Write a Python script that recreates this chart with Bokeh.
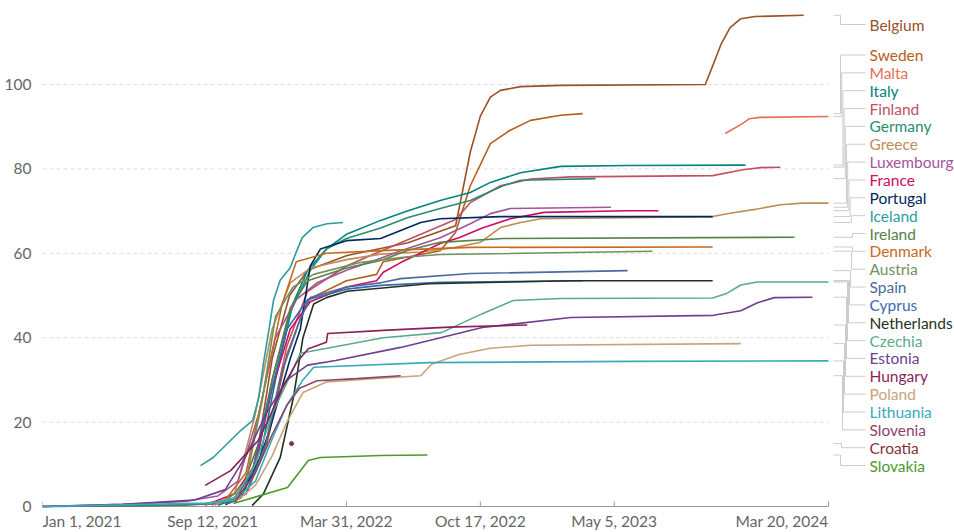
import pandas as pd
from bokeh.plotting import figure
from bokeh.models import Range1d, FixedTicker, ColumnDataSource
from bokeh.core.properties import value
from bokeh.embed import file_html
from bokeh.resources import INLINE

# ---------------- data ----------------
TICK_DATES = ["2021-01-01", "2021-09-12", "2022-03-31", "2022-10-17", "2023-05-05", "2024-03-20"]
TICK_LABELS = ["Jan 1, 2021", "Sep 12, 2021", "Mar 31, 2022", "Oct 17, 2022", "May 5, 2023", "Mar 20, 2024"]
Y_TICKS = [0, 20, 40, 60, 80, 100]

COUNTRIES = ["Belgium", "Sweden", "Malta", "Italy", "Finland", "Germany", "Greece", "Luxembourg",
             "France", "Portugal", "Iceland", "Ireland", "Denmark", "Austria", "Spain", "Cyprus",
             "Netherlands", "Czechia", "Estonia", "Hungary", "Poland", "Lithuania", "Slovenia",
             "Croatia", "Slovakia"]

BELGIUM_DATES = ["2021-01-01", "2021-06-01", "2021-09-15", "2021-10-20", "2021-11-20", "2021-12-10",
                 "2022-01-05", "2022-02-01", "2022-04-01", "2022-07-01", "2022-09-10", "2022-09-22",
                 "2022-10-02", "2022-10-17", "2022-11-01", "2022-11-16", "2022-12-16", "2023-02-14",
                 "2023-09-18", "2023-09-28", "2023-10-12", "2023-10-25", "2023-11-10", "2023-12-01",
                 "2024-02-12"]
BELGIUM_VALUES = [0, 0.2, 0.6, 2, 15, 35, 50, 56, 59.5, 62.5, 66.5, 76, 84, 92.5, 97, 98.6, 99.5,
                  99.8, 100, 104, 109.7, 113.5, 115.6, 116.1, 116.4]

SWEDEN_DATES = ["2021-10-01", "2021-11-01", "2021-12-01", "2022-01-01", "2022-02-01", "2022-03-31",
                "2022-05-15", "2022-05-25", "2022-08-18", "2022-09-10", "2022-10-02", "2022-11-01",
                "2022-11-30", "2022-12-31", "2023-02-14", "2023-03-19"]
SWEDEN_VALUES = [0.5, 3, 14, 36, 49, 53.5, 55, 58, 60.6, 65, 76, 86, 89.1, 91.5, 92.7, 93.1]

MALTA_DATES = ["2023-10-18", "2023-11-13", "2023-11-23", "2023-12-08", "2024-03-20"]
MALTA_VALUES = [88.4, 90.8, 91.9, 92.2, 92.4]

ITALY_DATES = ["2021-09-20", "2021-10-20", "2021-11-20", "2021-12-15", "2022-01-10", "2022-02-01",
               "2022-03-01", "2022-03-31", "2022-05-21", "2022-07-01", "2022-08-18", "2022-10-02",
               "2022-11-01", "2022-12-16", "2023-02-14", "2023-05-25", "2023-11-17"]
ITALY_VALUES = [0.3, 2, 10, 30, 48, 56, 61, 64.5, 67.8, 70.1, 72.5, 74.4, 76.8, 79.1, 80.6, 80.8, 80.9]

FINLAND_DATES = ["2021-10-01", "2021-11-01", "2021-12-01", "2022-01-01", "2022-02-01", "2022-03-31",
                 "2022-05-21", "2022-07-20", "2022-09-10", "2022-10-02", "2022-11-16", "2022-12-31",
                 "2023-03-01", "2023-09-29", "2023-11-13", "2023-12-10", "2024-01-08"]
FINLAND_VALUES = [0.4, 3, 15, 38, 51, 57, 60.5, 64.5, 68, 72, 76, 77.6, 78.1, 78.4, 79.8, 80.3, 80.4]

GERMANY_DATES = ["2021-01-01", "2021-08-01", "2021-09-15", "2021-10-15", "2021-11-15", "2021-12-10",
                 "2022-01-06", "2022-02-05", "2022-03-01", "2022-03-31", "2022-05-21", "2022-07-01",
                 "2022-08-18", "2022-10-02", "2022-11-20", "2022-12-16", "2023-04-07"]
GERMANY_VALUES = [0, 0.3, 0.8, 2, 9, 30, 46, 56, 61, 63.5, 66, 68.5, 70.6, 72.5, 76, 77.3, 77.7]

GREECE_DATES = ["2021-09-15", "2021-10-15", "2021-11-15", "2021-12-10", "2022-01-06", "2022-02-05",
                "2022-03-31", "2022-05-21", "2022-07-20", "2022-09-10", "2022-10-17", "2022-11-16",
                "2022-12-16", "2023-01-15", "2023-09-29", "2023-10-25", "2023-12-01", "2024-01-08",
                "2024-02-10", "2024-03-20"]
GREECE_VALUES = [0.3, 3, 22, 42, 53, 56.5, 58.5, 59.8, 60.3, 61.4, 62.6, 66.1, 67.3, 68.2, 68.7,
                 69.5, 70.4, 71.5, 71.9, 71.9]

LUXEMBOURG_DATES = ["2021-01-01", "2021-05-01", "2021-08-01", "2021-09-20", "2021-10-20", "2021-11-20",
                    "2021-12-15", "2022-01-15", "2022-02-15", "2022-03-31", "2022-05-21", "2022-06-20",
                    "2022-08-18", "2022-10-02", "2022-11-01", "2022-12-01", "2023-04-30"]
LUXEMBOURG_VALUES = [0, 0.5, 1.2, 2.5, 6, 22, 40, 49, 53, 56, 58.8, 60.6, 63.7, 67, 69.4, 70.6, 70.9]

FRANCE_DATES = ["2021-09-01", "2021-10-15", "2021-11-15", "2021-12-10", "2022-01-06", "2022-02-05",
                "2022-03-31", "2022-05-15", "2022-05-25", "2022-06-20", "2022-08-18", "2022-09-15",
                "2022-10-20", "2022-12-01", "2023-01-20", "2023-05-25", "2023-07-10"]
FRANCE_VALUES = [0.3, 3, 10, 28, 42, 48.5, 52, 53.5, 55.5, 57.8, 62.3, 63.7, 66, 68.2, 69.7, 70.1, 70.1]

PORTUGAL_DATES = ["2021-10-01", "2021-10-24", "2021-11-23", "2021-12-06", "2022-01-06", "2022-01-21",
                  "2022-02-05", "2022-02-20", "2022-03-31", "2022-05-21", "2022-07-20", "2022-08-18",
                  "2022-11-16", "2023-09-29"]
PORTUGAL_VALUES = [0.5, 2, 12, 18, 35, 42, 57, 61, 63, 63.5, 67.3, 68.2, 68.7, 68.7]

ICELAND_DATES = ["2021-08-25", "2021-09-13", "2021-10-24", "2021-11-11", "2021-11-20", "2021-11-27",
                 "2021-12-05", "2021-12-12", "2021-12-22", "2022-01-06", "2022-01-16", "2022-01-24",
                 "2022-02-09", "2022-03-02", "2022-03-26"]
ICELAND_VALUES = [9.7, 11.6, 18, 20.4, 25.8, 33.9, 41.7, 48.8, 53.6, 56.6, 60.7, 63.7, 66.1, 67, 67.3]

IRELAND_DATES = ["2021-10-10", "2021-11-10", "2021-12-10", "2022-01-06", "2022-02-01", "2022-03-31",
                 "2022-05-21", "2022-07-01", "2022-08-18", "2022-11-20", "2024-01-29"]
IRELAND_VALUES = [0.8, 8, 30, 47, 53.5, 56.5, 58.3, 60.7, 62.6, 63.5, 63.8]

DENMARK_DATES = ["2021-10-01", "2021-11-01", "2021-12-01", "2021-12-25", "2022-01-15", "2022-03-01",
                 "2022-06-01", "2022-10-01", "2023-09-29"]
DENMARK_VALUES = [1.5, 8, 30, 48, 58, 60, 60.7, 61.4, 61.5]

AUSTRIA_DATES = ["2021-10-01", "2021-11-01", "2021-11-25", "2021-12-15", "2022-01-10", "2022-02-10",
                 "2022-04-20", "2022-06-20", "2022-08-18", "2023-07-01"]
AUSTRIA_VALUES = [1, 6, 25, 45, 52, 55, 57.8, 59, 59.7, 60.5]

SPAIN_DATES = ["2021-10-01", "2021-11-01", "2021-12-01", "2021-12-25", "2022-01-20", "2022-02-05",
               "2022-03-31", "2022-05-21", "2022-06-20", "2022-10-02", "2023-05-25"]
SPAIN_VALUES = [0.5, 3, 15, 32, 44, 49.5, 52, 53, 54, 55.2, 55.9]

CYPRUS_DATES = ["2021-10-10", "2021-11-10", "2021-12-05", "2022-01-01", "2022-02-01", "2022-03-31",
                "2022-05-21", "2022-08-18", "2023-03-19"]
CYPRUS_VALUES = [1, 8, 25, 42, 49, 51.5, 52.4, 53.1, 53.5]

NETHERLANDS_DATES = ["2021-11-10", "2021-11-27", "2021-12-22", "2022-01-11", "2022-01-25", "2022-02-10",
                     "2022-03-01", "2022-04-01", "2022-08-01", "2023-03-01", "2023-09-29"]
NETHERLANDS_VALUES = [0.2, 3, 11.6, 26, 40, 48, 49.5, 51, 52.8, 53.5, 53.5]

CZECHIA_DATES = ["2021-09-01", "2021-10-15", "2021-11-15", "2021-12-10", "2022-01-06", "2022-01-21",
                 "2022-05-25", "2022-08-20", "2022-10-20", "2022-12-05", "2023-02-15", "2023-09-29",
                 "2023-10-20", "2023-11-10", "2023-12-05", "2024-03-20"]
CZECHIA_VALUES = [0.5, 2, 10, 22, 31, 36.3, 40, 41.2, 45.7, 48.8, 49.3, 49.4, 50.5, 52.5, 53.2, 53.2]

ESTONIA_DATES = ["2021-01-01", "2021-05-01", "2021-08-15", "2021-10-01", "2021-11-01", "2021-12-01",
                 "2022-01-01", "2022-02-01", "2022-03-15", "2022-06-20", "2022-10-20", "2023-03-01",
                 "2023-09-30", "2023-11-10", "2023-12-05", "2023-12-30", "2024-02-25"]
ESTONIA_VALUES = [0, 0.5, 1.5, 4, 12, 22, 30, 33.5, 34.6, 37.7, 42.4, 44.8, 45.3, 46.4, 48.3, 49.5, 49.6]

HUNGARY_DATES = ["2021-09-01", "2021-10-09", "2021-11-19", "2021-12-04", "2021-12-25", "2022-01-15",
                 "2022-02-02", "2022-03-01", "2022-03-03", "2022-06-01", "2022-09-01", "2022-12-26"]
HUNGARY_VALUES = [5, 8.5, 15.6, 20.4, 28, 34, 37.4, 38.9, 41, 41.8, 42.5, 43]

POLAND_DATES = ["2021-10-15", "2021-11-15", "2021-12-10", "2022-01-01", "2022-01-25", "2022-03-01",
                "2022-06-01", "2022-07-20", "2022-08-05", "2022-09-15", "2022-11-01", "2022-12-31",
                "2023-11-10"]
POLAND_VALUES = [1, 5, 12, 20, 27, 29.5, 30.5, 31, 33.7, 36, 37.5, 38.2, 38.6]

LITHUANIA_DATES = ["2021-01-01", "2021-09-01", "2021-10-15", "2021-11-15", "2021-12-10", "2022-01-01",
                   "2022-01-25", "2022-02-10", "2022-08-01", "2023-06-01", "2024-03-20"]
LITHUANIA_VALUES = [0, 0.8, 1.5, 6, 16, 24, 30, 33, 34.1, 34.4, 34.5]

SLOVENIA_DATES = ["2021-10-15", "2021-11-15", "2021-12-10", "2022-01-01", "2022-01-20", "2022-02-15",
                  "2022-04-15", "2022-06-20"]
SLOVENIA_VALUES = [1, 8, 17, 24, 28, 29.8, 30.3, 31]

CROATIA_DATES = ["2022-01-08"]
CROATIA_VALUES = [14.9]

SLOVAKIA_DATES = ["2021-10-13", "2022-01-02", "2022-02-02", "2022-02-20", "2022-05-21", "2022-07-30"]
SLOVAKIA_VALUES = [0.7, 4.5, 10.9, 11.6, 12.1, 12.2]

SERIES = {
    "Belgium": (BELGIUM_DATES, BELGIUM_VALUES), "Sweden": (SWEDEN_DATES, SWEDEN_VALUES),
    "Malta": (MALTA_DATES, MALTA_VALUES), "Italy": (ITALY_DATES, ITALY_VALUES),
    "Finland": (FINLAND_DATES, FINLAND_VALUES), "Germany": (GERMANY_DATES, GERMANY_VALUES),
    "Greece": (GREECE_DATES, GREECE_VALUES), "Luxembourg": (LUXEMBOURG_DATES, LUXEMBOURG_VALUES),
    "France": (FRANCE_DATES, FRANCE_VALUES), "Portugal": (PORTUGAL_DATES, PORTUGAL_VALUES),
    "Iceland": (ICELAND_DATES, ICELAND_VALUES), "Ireland": (IRELAND_DATES, IRELAND_VALUES),
    "Denmark": (DENMARK_DATES, DENMARK_VALUES), "Austria": (AUSTRIA_DATES, AUSTRIA_VALUES),
    "Spain": (SPAIN_DATES, SPAIN_VALUES), "Cyprus": (CYPRUS_DATES, CYPRUS_VALUES),
    "Netherlands": (NETHERLANDS_DATES, NETHERLANDS_VALUES), "Czechia": (CZECHIA_DATES, CZECHIA_VALUES),
    "Estonia": (ESTONIA_DATES, ESTONIA_VALUES), "Hungary": (HUNGARY_DATES, HUNGARY_VALUES),
    "Poland": (POLAND_DATES, POLAND_VALUES), "Lithuania": (LITHUANIA_DATES, LITHUANIA_VALUES),
    "Slovenia": (SLOVENIA_DATES, SLOVENIA_VALUES), "Croatia": (CROATIA_DATES, CROATIA_VALUES),
    "Slovakia": (SLOVAKIA_DATES, SLOVAKIA_VALUES),
}

# ---------------- styles ----------------
COLORS = {
    "Belgium": "#9A5129", "Sweden": "#B5601C", "Malta": "#E56E5A", "Italy": "#00847E",
    "Finland": "#C15065", "Germany": "#2A8C6E", "Greece": "#BC8E5A", "Luxembourg": "#A2559C",
    "France": "#CF0A66", "Portugal": "#00295B", "Iceland": "#2A9DA0", "Ireland": "#578145",
    "Denmark": "#C8691C", "Austria": "#6F9160", "Spain": "#4C6A9C", "Cyprus": "#3A6AB0",
    "Netherlands": "#1F3320", "Czechia": "#58AC8C", "Estonia": "#6D3E91", "Hungary": "#8A1F5A",
    "Poland": "#C9A37A", "Lithuania": "#38AABA", "Slovenia": "#8C4569", "Croatia": "#883039",
    "Slovakia": "#4C9A2A",
}
FONT = "Lato"
AXIS_TEXT = "#666666"
FS = "15.5px"

START = pd.Timestamp("2021-01-01")


def days(d):
    return (pd.Timestamp(d) - START).days


# ---------------- layout ----------------
W, H = 954, 532
LEFT = 42
PX_PER_DAY = 0.6695
PX_PER_UNIT = 4.22
FRAME_W = W - LEFT
FRAME_H = H
PAGE_LEFT = LEFT
PAGE_BOTTOM = FRAME_H          # bottom of frame on the page
ZERO_PAGE = 506                # page row of value 0
Y0 = -(PAGE_BOTTOM - ZERO_PAGE) / PX_PER_UNIT
X_END = FRAME_W / PX_PER_DAY
Y_END = Y0 + FRAME_H / PX_PER_UNIT


def px_x(px):
    return (px - PAGE_LEFT) / PX_PER_DAY


def px_y(py):
    return Y0 + (PAGE_BOTTOM - py) / PX_PER_UNIT


def val_py(v):
    return PAGE_BOTTOM - (v - Y0) * PX_PER_UNIT


p = figure(width=W, height=H, x_range=Range1d(0, X_END), y_range=Range1d(Y0, Y_END),
           output_backend="svg", toolbar_location=None, x_axis_location=None,
           min_border_left=LEFT, min_border_right=0, min_border_top=0, min_border_bottom=0)
p.outline_line_color = None
p.xgrid.visible = False
p.ygrid.visible = False
p.background_fill_color = "white"
p.border_fill_color = "white"

last_day = days(TICK_DATES[-1])

# grid lines (stop at last tick)
for yv in Y_TICKS[1:]:
    p.segment(x0=0, y0=yv, x1=last_day, y1=yv, line_color="#dddddd", line_width=1, line_dash="4 3")
p.segment(x0=0, y0=0, x1=last_day, y1=0, line_color="#9a9a9a", line_width=1)

# x ticks and labels (drawn inside the frame)
tick_days = [days(d) for d in TICK_DATES]
p.segment(x0=tick_days, y0=[0] * len(tick_days), x1=tick_days, y1=[5 / PX_PER_UNIT] * len(tick_days),
          line_color="#9a9a9a", line_width=1)
lab_y = px_y(520)
p.text(x=tick_days[:1], y=[lab_y], text=TICK_LABELS[:1], text_align="left", text_baseline="middle",
       text_font=value(FONT), text_font_size=FS, text_color=AXIS_TEXT)
p.text(x=tick_days[1:-1], y=[lab_y] * (len(tick_days) - 2), text=TICK_LABELS[1:-1], text_align="center",
       text_baseline="middle", text_font=value(FONT), text_font_size=FS, text_color=AXIS_TEXT)
p.text(x=tick_days[-1:], y=[lab_y], text=TICK_LABELS[-1:], text_align="right", text_baseline="middle",
       text_font=value(FONT), text_font_size=FS, text_color=AXIS_TEXT)

# y axis
p.yaxis.ticker = FixedTicker(ticks=Y_TICKS)
p.yaxis.axis_line_color = None
p.yaxis.major_tick_line_color = None
p.yaxis.minor_tick_line_color = None
p.yaxis.major_label_standoff = 5
p.yaxis.major_label_text_font = FONT
p.yaxis.major_label_text_font_size = FS
p.yaxis.major_label_text_color = AXIS_TEXT

# series
for name in COUNTRIES:
    ds, vs = SERIES[name]
    xs = [days(d) for d in ds]
    if len(xs) == 1:
        p.scatter(x=xs, y=vs, size=4, color=COLORS[name])
    else:
        p.line(x=xs, y=vs, line_color=COLORS[name], line_width=1.6)

# labels with connectors
label_py = [24] + [54.5 + 17.85 * i for i in range(len(COUNTRIES) - 1)]
end_py = [val_py(SERIES[n][1][-1]) for n in COUNTRIES]
signs = [1 if lp >= ep else -1 for lp, ep in zip(label_py, end_py)]
xv = [0.0] * len(COUNTRIES)
i = 0
while i < len(COUNTRIES):
    j = i
    while j + 1 < len(COUNTRIES) and signs[j + 1] == signs[i]:
        j += 1
    n = j - i + 1
    step = min(3.0, 12.0 / max(n - 1, 1))
    for k in range(n):
        idx = k if signs[i] < 0 else (n - 1 - k)
        xv[i + k] = 840 + idx * step
    i = j + 1

conn_xs, conn_ys = [], []
for k in range(len(COUNTRIES)):
    conn_xs.append([px_x(833), px_x(xv[k]), px_x(xv[k]), px_x(865)])
    conn_ys.append([px_y(end_py[k]), px_y(end_py[k]), px_y(label_py[k]), px_y(label_py[k])])
p.multi_line(xs=conn_xs, ys=conn_ys, line_color="#cccccc", line_width=1)

lab_src = ColumnDataSource(dict(
    x=[px_x(869)] * len(COUNTRIES),
    y=[px_y(v) for v in label_py],
    text=COUNTRIES,
    color=[COLORS[n] for n in COUNTRIES],
))
p.text(x="x", y="y", text="text", text_color="color", source=lab_src, text_font=value(FONT),
       text_font_size=FS, text_baseline="middle", text_align="left")

open("out.html", "w").write(file_html(p, INLINE))
